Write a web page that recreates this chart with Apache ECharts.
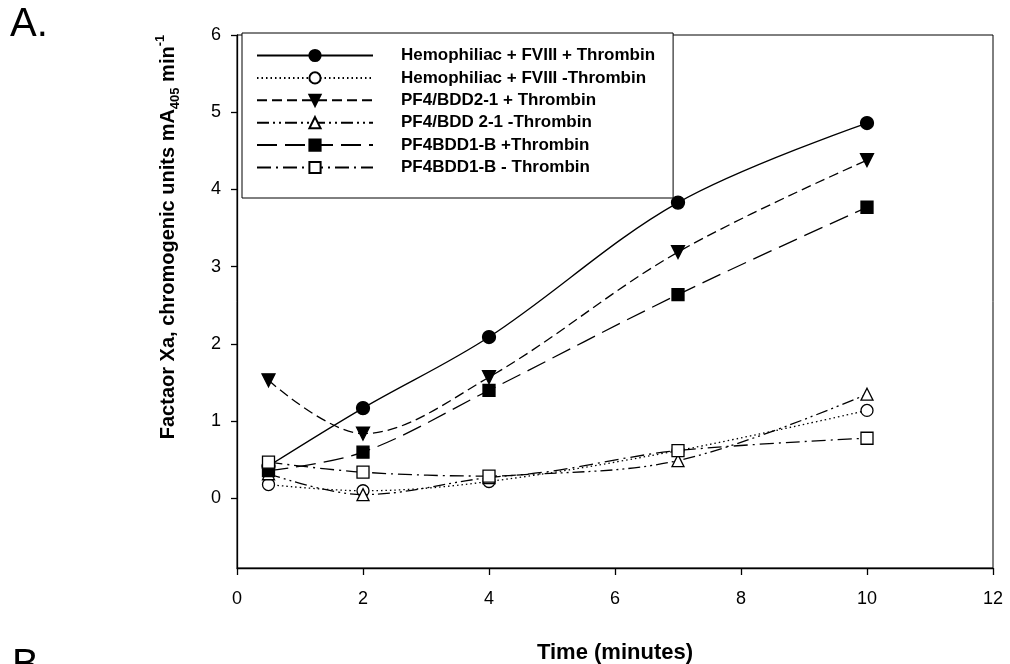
<!DOCTYPE html>
<html>
<head>
<meta charset="utf-8">
<script src="https://cdn.jsdelivr.net/npm/echarts@6/dist/echarts.min.js"></script>
<style>
html,body{margin:0;padding:0;background:#fff;}
#chart{width:1010px;height:664px;}
</style>
</head>
<body>
<div id="chart"></div>
<script>
// ---- data ----
var times = [0.5, 2, 4, 7, 10];
var seriesNames = [
  'Hemophiliac + FVIII + Thrombin',
  'Hemophiliac + FVIII -Thrombin',
  'PF4/BDD2-1 + Thrombin',
  'PF4/BDD 2-1 -Thrombin',
  'PF4BDD1-B +Thrombin',
  'PF4BDD1-B - Thrombin'
];
var hemoPlus   = [0.42, 1.17, 2.09, 3.83, 4.86];
var hemoMinus  = [0.18, 0.10, 0.22, 0.62, 1.14];
var bdd21Plus  = [1.53, 0.84, 1.57, 3.19, 4.38];
var bdd21Minus = [0.32, 0.05, 0.27, 0.49, 1.35];
var bdd1bPlus  = [0.36, 0.60, 1.40, 2.64, 3.77];
var bdd1bMinus = [0.47, 0.34, 0.29, 0.62, 0.78];
var xTicks = [0, 2, 4, 6, 8, 10, 12];
var yTicks = [0, 1, 2, 3, 4, 5, 6];

var seriesValues = [hemoPlus, hemoMinus, bdd21Plus, bdd21Minus, bdd1bPlus, bdd1bMinus];
var symbols = ['circle', 'circle', 'triangle', 'triangle', 'rect', 'rect'];
var filled = [true, false, true, false, true, false];
var rotations = [0, 0, 180, 0, 0, 0];
var dashes = ['solid', [1.5, 3], [10, 5], [12, 4, 2, 4, 2, 4], [20, 8], [14, 5, 2, 5]];
var sizes = [13, 12, 13, 12, 12, 12];

function pairs(vals) { return times.map(function (t, i) { return [t, vals[i]]; }); }

var series = seriesValues.map(function (vals, i) {
  return {
    name: seriesNames[i],
    type: 'line',
    data: pairs(vals),
    smooth: 0.35,
    symbol: symbols[i],
    symbolSize: sizes[i],
    symbolRotate: rotations[i],
    showAllSymbol: true,
    lineStyle: { color: '#000', width: 1.3, type: dashes[i] },
    itemStyle: { color: filled[i] ? '#000' : '#fff', borderColor: '#000', borderWidth: 1.3, opacity: 1 },
    emphasis: { disabled: true },
    z: 2 + i
  };
});

var chart = echarts.init(document.getElementById('chart'), null, { renderer: 'canvas' });
chart.setOption({
  animation: false,
  backgroundColor: '#fff',
  grid: { left: 237, right: 17, top: 35, bottom: 96, outerBoundsMode: 'none', containLabel: false,
    show: true, borderColor: '#000', borderWidth: 1, backgroundColor: 'transparent' },
  xAxis: {
    type: 'value', min: xTicks[0], max: xTicks[xTicks.length - 1], interval: 2,
    axisLine: { onZero: false, lineStyle: { color: '#000', width: 1.3 } },
    axisTick: { show: true, length: 7, lineStyle: { color: '#000', width: 1.3 } },
    splitLine: { show: false },
    axisLabel: { color: '#000', fontSize: 18, margin: 22, fontFamily: 'Liberation Sans, Arial, sans-serif' },
    name: 'Time (minutes)', nameLocation: 'middle', nameGap: 74,
    nameTextStyle: { color: '#000', fontSize: 22, fontWeight: 'bold', fontFamily: 'Liberation Sans, Arial, sans-serif' }
  },
  yAxis: {
    type: 'value', min: -0.9, max: yTicks[yTicks.length - 1], splitNumber: 7,
    axisLine: { onZero: false, lineStyle: { color: '#000', width: 1.3 } },
    axisTick: { show: true, length: 6, lineStyle: { color: '#000', width: 1.3 } },
    splitLine: { show: false },
    axisLabel: { color: '#000', fontSize: 18, margin: 16, showMinLabel: false,
      fontFamily: 'Liberation Sans, Arial, sans-serif',
      formatter: function (v) { return yTicks.indexOf(Math.round(v * 10) / 10) >= 0 ? String(Math.round(v)) : ''; } }
  },
  legend: {
    orient: 'vertical', left: 242, top: 33,
    padding: [14, 18, 22, 14],
    borderColor: '#000', borderWidth: 1, backgroundColor: '#fff',
    itemWidth: 116, itemHeight: 14, itemGap: 5.4,
    data: seriesNames,
    selectedMode: false,
    textStyle: { color: '#000', fontSize: 17, fontWeight: 'bold', fontFamily: 'Liberation Sans, Arial, sans-serif', padding: [0, 0, 0, 23] }
  },
  graphic: [
    { type: 'text', left: 10, top: 5, style: { text: 'A.', fontSize: 40, fill: '#000', fontFamily: 'Liberation Sans, Open Sans, sans-serif' } },
    { type: 'text', left: 12, top: 646, style: { text: 'B.', fontSize: 40, fill: '#000', fontFamily: 'Liberation Sans, Open Sans, sans-serif' } },
    { type: 'text', x: 168, y: 237, rotation: Math.PI / 2,
      style: {
        text: '{b|Factaor Xa, chromogenic units mA}{s|405}{b| min}{p|-1}',
        align: 'center', verticalAlign: 'middle', fill: '#000',
        rich: {
          b: { fontSize: 20, fontWeight: 'bold', fontFamily: 'Liberation Sans, Arial, sans-serif', lineHeight: 28, verticalAlign: 'middle' },
          s: { fontSize: 13, fontWeight: 'bold', fontFamily: 'Liberation Sans, Arial, sans-serif', lineHeight: 12, verticalAlign: 'bottom' },
          p: { fontSize: 13, fontWeight: 'bold', fontFamily: 'Liberation Sans, Arial, sans-serif', lineHeight: 12, verticalAlign: 'top' }
        }
      }
    }
  ],
  series: series
});
</script>
</body>
</html>
